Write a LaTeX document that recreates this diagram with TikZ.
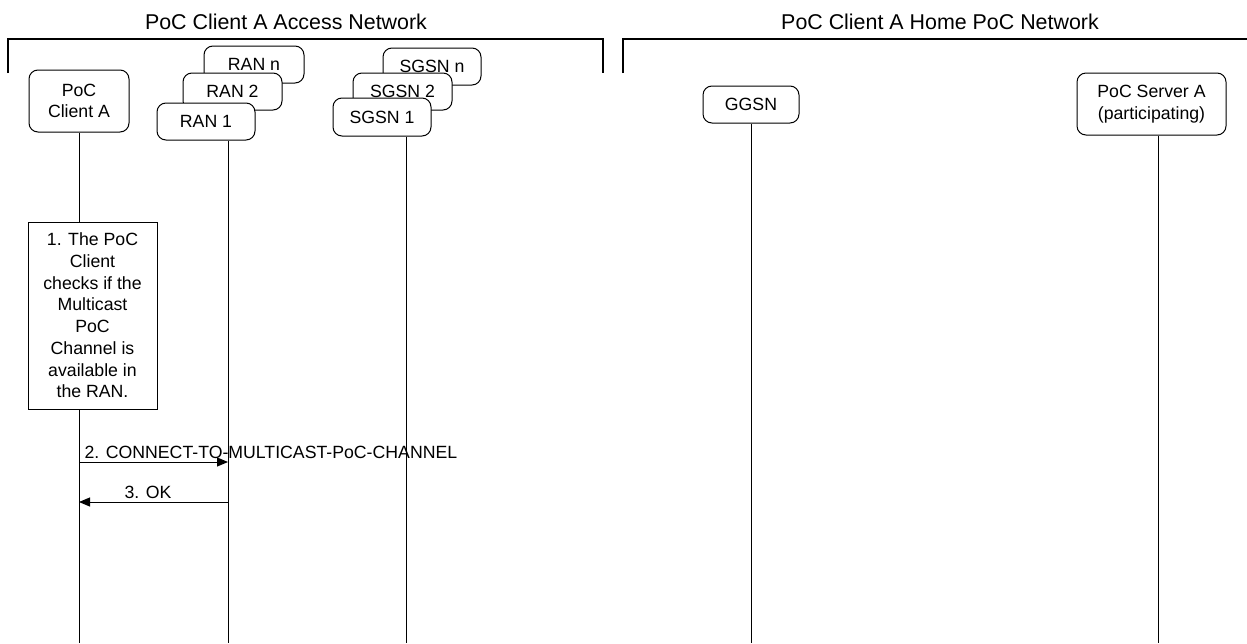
\documentclass[tikz,border=0pt]{standalone}
\usepackage{fontspec}
\setmainfont{Liberation Sans}
\usetikzlibrary{arrows.meta}

\begin{document}
\begin{tikzpicture}[x=1pt, y=-1pt, line width=1pt,
  lifebox/.style={draw, fill=white, rounded corners=9pt, inner sep=0pt,
    align=center, font=\fontsize{17.7}{21.7}\selectfont},
  actbox/.style={draw, fill=white, inner sep=0pt, align=center,
    minimum width=129pt, minimum height=187pt,
    font=\fontsize{17.7}{21.7}\selectfont},
  nettitle/.style={anchor=base, font=\fontsize{21.4}{25}\selectfont},
  msglabel/.style={anchor=base west, inner sep=0pt,
    font=\fontsize{17.7}{21.7}\selectfont},
  msg/.style={-{Triangle[length=11pt, width=9pt]}}]
  \useasboundingbox (0,0) rectangle (1247,643);

  % network brackets
  \node[nettitle] (accnet) at (286,29) {PoC Client A Access Network};
  \node[nettitle] (homenet) at (940,29) {PoC Client A Home PoC Network};
  \draw[line width=1.2pt] (8,73) -- (8,39) -- (603,39) -- (603,73);
  \draw[line width=1.2pt] (623,73) -- (623,39) -- (1247,39);

  % lifeline ends
  \coordinate (clend) at (79,643);
  \coordinate (ranend) at (228,643);
  \coordinate (sgsnend) at (406,643);
  \coordinate (ggsnend) at (751,643);
  \coordinate (srvend) at (1158,643);

  % entities
  \node[lifebox, minimum width=100pt, minimum height=62pt] (client) at (79,101) {PoC\\Client A};
  \node[lifebox, minimum width=100pt, minimum height=37pt] (rann) at (254,64.5) {RAN n};
  \node[lifebox, minimum width=99pt, minimum height=37pt] (ran2) at (232.5,91.5) {RAN 2};
  \node[lifebox, minimum width=98pt, minimum height=37pt] (ran1) at (206,121.5) {RAN 1};
  \node[lifebox, minimum width=98pt, minimum height=37pt] (sgsnn) at (432,66.5) {SGSN n};
  \node[lifebox, minimum width=99pt, minimum height=37pt] (sgsn2) at (402.5,91.5) {SGSN 2};
  \node[lifebox, minimum width=98pt, minimum height=38pt] (sgsn1) at (382,117) {SGSN 1};
  \node[lifebox, minimum width=96pt, minimum height=37pt] (ggsn) at (751,104.5) {GGSN};
  \node[lifebox, minimum width=149pt, minimum height=62pt] (server) at (1151.5,104) {PoC Server A\\(participating)};

  % lifelines
  \draw (client.south) -- (clend);
  \draw (ran1.south -| ranend) -- (ranend);
  \draw (sgsn1.south -| sgsnend) -- (sgsnend);
  \draw (ggsn.south) -- (ggsnend);
  \draw (server.south -| srvend) -- (srvend);

  % step 1
  \node[actbox] (check) at (92.5,315.5) {1. The PoC\\Client\\checks if the\\Multicast\\PoC\\Channel is\\available in\\the RAN.};

  % messages
  \coordinate (m2) at (0,462);
  \coordinate (m3) at (0,502);
  \draw[msg] (clend |- m2) -- (ranend |- m2);
  \node[msglabel] (m2lbl) at (84,458) {2. CONNECT-TO-MULTICAST-PoC-CHANNEL};
  \draw[msg] (ranend |- m3) -- (clend |- m3);
  \node[msglabel] (m3lbl) at (124,498.5) {3. OK};
\end{tikzpicture}
\end{document}
